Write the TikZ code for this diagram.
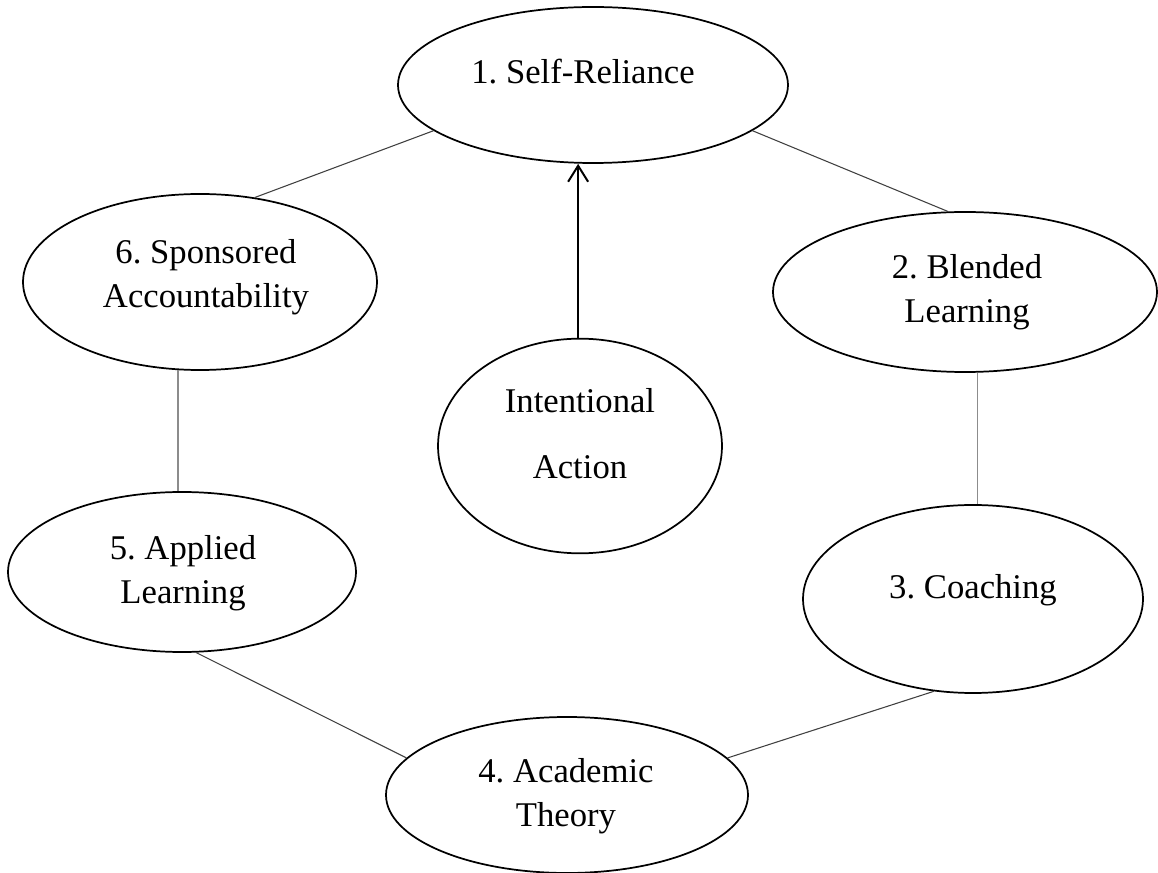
\documentclass[tikz,border=0pt]{standalone}
\usepackage{fontspec}
\setmainfont{Liberation Serif}
\usetikzlibrary{shapes.geometric,arrows.meta}
\frenchspacing
\begin{document}
\begin{tikzpicture}[x=0.75pt,y=-0.75pt,
  stage/.style={ellipse,draw=black,line width=1.3pt,inner sep=0pt,fill=white},
  label/.style={inner sep=0pt,align=center,font=\fontsize{26}{33}\selectfont},
  link/.style={draw=black!75,line width=0.8pt},
  vlink/.style={draw=black!45,line width=1pt},
  lead/.style={draw=black,line width=1.5pt,-{Straight Barb[length=12pt,width=15pt,line width=1.5pt]}}]
\useasboundingbox (0,0) rectangle (1158,873);

% stage ellipses
\node[stage,minimum width=292.5pt,minimum height=117pt] (e1) at (593,85) {};
\node[stage,minimum width=288pt,minimum height=120pt] (e2) at (965,292) {};
\node[stage,minimum width=255pt,minimum height=141pt] (e3) at (973,599) {};
\node[stage,minimum width=271.5pt,minimum height=117pt] (e4) at (567,795) {};
\node[stage,minimum width=261pt,minimum height=120pt] (e5) at (182,572) {};
\node[stage,minimum width=265.5pt,minimum height=132pt] (e6) at (200,282) {};
\node[stage,minimum width=213pt,minimum height=161pt] (ia) at (580,446) {};

% labels
\node[label] (t1) at (583,71.5) {1. Self-Reliance};
\node[label] (t2) at (967,292) {2. Blended\\Learning};
\node[label] (t3) at (973,590) {3. Coaching};
\node[label] (t4) at (566,796) {4. Academic\\Theory};
\node[label] (t5) at (183,573) {5. Applied\\Learning};
\node[label] (t6) at (206,277.5) {6. Sponsored\\Accountability};
\node[label,font=\fontsize{26}{49.5}\selectfont] (tia) at (580,433.5) {Intentional\\Action};

% cycle connectors
\draw[link] (e6.57) -- (e1.196);
\draw[link] (e1.344) -- (e2.102);
\draw[vlink] (e2.279) -- (e2.279 |- e3.north);
\draw[link] (e4.13) -- (e3.247);
\draw[link] (e5.280) -- (e4.167);
\draw[vlink] (e6.256) -- (e6.256 |- e5.north);

% central arrow
\draw[lead] (ia.91) -- (ia.91 |- e1.south);
\end{tikzpicture}
\end{document}
